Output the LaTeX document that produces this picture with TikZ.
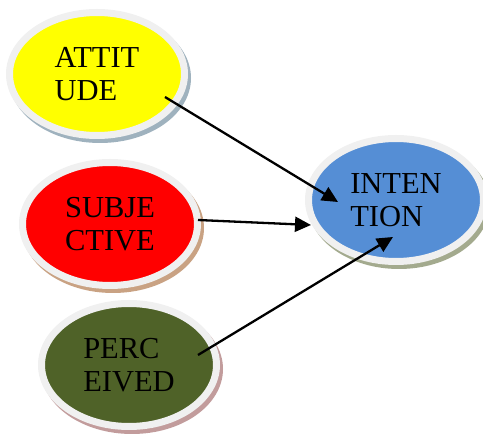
\documentclass[tikz,border=0pt]{standalone}
\usepackage{fontspec}
\setmainfont{Liberation Serif}
\usetikzlibrary{arrows.meta,shapes.geometric}
\definecolor{ringc}{HTML}{F0F0F0}
\definecolor{cyel}{HTML}{FFFF00}
\definecolor{cred}{HTML}{FF0000}
\definecolor{cgrn}{HTML}{4F6228}
\definecolor{cblu}{HTML}{558ED5}
\definecolor{shyel}{HTML}{9FB2BE}
\definecolor{shred}{HTML}{C9A283}
\definecolor{shgrn}{HTML}{C29C9C}
\definecolor{shblu}{HTML}{A3AA8E}
\tikzset{
  bubble/.style 2 args={ellipse, minimum width=175pt, minimum height=123pt, inner sep=0pt,
    fill=#1, draw=ringc, line width=7pt, align=left,
    font=\fontsize{30.5}{33}\selectfont, text=black,
    preaction={draw=#2, fill=#2, line width=7pt, transform canvas={shift={(3,4)}}}},
  conn/.style={line width=2.3pt, -{Triangle[length=16pt,width=15pt]}}
}
\begin{document}
\begin{tikzpicture}[x=1pt,y=-1pt]
\useasboundingbox (0,0) rectangle (483,435);
\node[bubble={cyel}{shyel}] (att) at (97,74) {ATTIT\\UDE};
\node[bubble={cred}{shred}] (sub) at (110,224) {SUBJE\\CTIVE};
\node[bubble={cgrn}{shgrn}] (per) at (129,365) {PERC\\EIVED};
\node[bubble={cblu}{shblu}] (int) at (396,200) {INTEN\\TION};
\coordinate (s1) at (165,97);
\coordinate (s2) at (198,220);
\coordinate (s3) at (198,355);
\coordinate (t1) at (338,202);
\coordinate (t2) at (311,225);
\coordinate (t3) at (393,237);
\draw[conn] (s1) -- (t1);
\draw[conn] (s2) -- (t2);
\draw[conn] (s3) -- (t3);
\end{tikzpicture}
\end{document}
